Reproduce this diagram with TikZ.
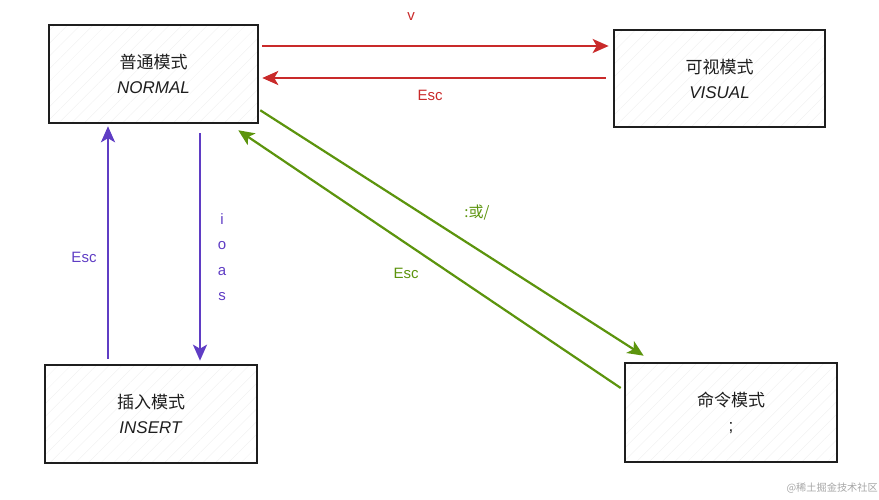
\documentclass[tikz,border=0pt]{standalone}
\usepackage{fontspec}
\setmainfont{Liberation Sans}
\newfontfamily\cjk{Noto Sans CJK SC}
\usetikzlibrary{arrows.meta,patterns.meta}
\definecolor{exred}{HTML}{C92A2A}
\definecolor{exviolet}{HTML}{5F3DC4}
\definecolor{exgreen}{HTML}{5C940D}
\definecolor{exdark}{HTML}{1E1E1E}
\tikzset{
  modebox/.style={draw=exdark, line width=2.6pt, rectangle, align=center,
    pattern={Lines[angle=45,distance=9pt,line width=0.5pt]}, pattern color=black!5,
    font=\fontsize{17}{25}\selectfont, text=exdark},
  conn/.style={line width=2.6pt, -{Stealth[length=16pt,width=14pt,inset=4pt]}},
  redconn/.style={conn, draw=exred, fill=exred},
  violetconn/.style={conn, draw=exviolet, fill=exviolet},
  greenconn/.style={conn, line width=2.2pt, draw=exgreen, fill=exgreen},
  lbl/.style={font=\fontsize{15}{17}\selectfont, inner sep=0pt},
}
\begin{document}
\begin{tikzpicture}[x=1pt,y=-1pt]
\useasboundingbox (0,0) rectangle (879,500);
\node[modebox, minimum width=209pt, minimum height=98pt] (normal) at (153.5,74) {{\cjk 普通模式}\\ \textit{NORMAL}};
\node[modebox, minimum width=211pt, minimum height=97pt] (visual) at (719.5,78.5) {{\cjk 可视模式}\\ \textit{VISUAL}};
\node[modebox, minimum width=212pt, minimum height=98pt] (insert) at (151,414) {{\cjk 插入模式}\\ \textit{INSERT}};
\node[modebox, minimum width=212pt, minimum height=99pt] (cmd) at (731,412.5) {{\cjk 命令模式}\\ ;};

% red: normal <-> visual
\draw[redconn] ([shift={(4,-28)}]normal.east) -- ([shift={(-4,-32.5)}]visual.west);
\draw[redconn] ([shift={(-7,-0.5)}]visual.west) -- ([shift={(4,4)}]normal.east);
\node[lbl, text=exred] (lv) at (411,17) {v};
\node[lbl, text=exred] (lesc1) at (430,95) {Esc};

% violet: normal <-> insert
\draw[violetconn] ([shift={(-43,-5)}]insert.north) -- ([shift={(-45.5,3)}]normal.south);
\draw[violetconn] ([shift={(46.5,10)}]normal.south) -- ([shift={(49,-3)}]insert.north);
\node[lbl, text=exviolet] (lesc2) at (84,257) {Esc};
\node[lbl, text=exviolet, align=center, font=\fontsize{15}{25.5}\selectfont] (lioas) at (222,257) {i\\o\\a\\s};

% green: normal <-> command
\draw[greenconn] ([shift={(2,-13)}]normal.south east) -- ([shift={(20,-6)}]cmd.north west);
\draw[greenconn] ([shift={(-3,-24.5)}]cmd.west) -- ([shift={(-20,7)}]normal.south east);
\node[lbl, text=exgreen] (lcolon) at (477,213) {{\cjk :或/}};
\node[lbl, text=exgreen] (lesc3) at (406,273) {Esc};

% watermark
\node[anchor=east, inner sep=0pt, text=black!35, font=\fontsize{10.2}{12}\selectfont] (wm) at (878,488) {{\cjk @稀土掘金技术社区}};
\end{tikzpicture}
\end{document}
